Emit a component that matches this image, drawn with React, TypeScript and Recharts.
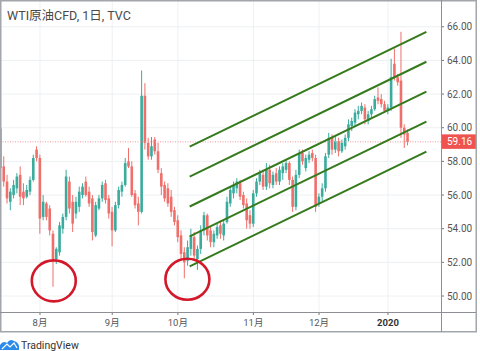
import React from 'react';
import { ComposedChart, Bar, XAxis, YAxis, CartesianGrid, ReferenceLine, ReferenceDot } from 'recharts';

// Daily candles, 16 Jul 2019 .. 10 Jan 2020 (index = trading day)
const OPEN = [
  59.95, 57.7, 56.8, 55.6, 56.0, 56.4, 57.2, 56.2, 55.9, 56.2, 56.9, 58.7, 58.2, 54.7, 55.5, 55.2, 53.7, 52.2, 52.6, 54.0,
  54.7, 56.8, 55.6, 54.9, 55.3, 56.0, 56.8, 56.2, 55.8, 53.6, 55.2, 55.8, 56.7, 55.8, 55.0, 53.9, 55.4, 56.2, 56.6, 58.0,
  57.7, 56.1, 55.5, 55.0, 61.9, 59.1, 58.3, 59.3, 58.6, 57.3, 56.6, 56.4, 55.9, 55.1, 54.5, 53.6, 52.6, 52.1, 52.8, 53.5,
  52.2, 52.8, 53.9, 54.8, 53.9, 53.2, 53.6, 54.2, 53.6, 54.4, 55.5, 56.1, 56.4, 56.7, 56.0, 55.5, 54.8, 54.3, 56.1, 56.8,
  57.2, 56.5, 57.5, 56.6, 57.3, 56.8, 57.3, 57.5, 57.9, 56.9, 55.3, 57.2, 58.5, 57.6, 58.1, 58.5, 58.2, 55.5, 55.9, 56.4,
  58.4, 59.4, 58.7, 59.2, 58.6, 58.9, 59.4, 60.1, 60.3, 60.8, 61.0, 61.2, 60.4, 60.8, 61.1, 61.8, 61.7, 61.4, 61.0, 61.2,
  63.8, 63.0, 62.8, 60.0, 59.7,
];
const HIGH = [
  60.1, 58.3, 57.2, 56.4, 56.9, 57.3, 57.7, 56.7, 56.6, 57.1, 58.4, 58.9, 58.4, 56.0, 55.6, 55.4, 53.9, 52.9, 54.4, 54.9,
  57.5, 57.1, 56.0, 55.9, 56.5, 56.7, 57.1, 56.5, 56.0, 55.6, 56.0, 56.8, 56.9, 56.0, 55.3, 55.6, 56.5, 56.8, 58.2, 58.8,
  58.0, 56.3, 55.9, 63.4, 62.65, 59.4, 59.45, 59.45, 59.1, 57.6, 56.8, 56.7, 56.3, 55.3, 54.8, 53.9, 52.9, 53.3, 54.0, 53.8,
  53.0, 54.2, 55.0, 54.9, 54.1, 53.9, 54.3, 54.5, 54.5, 55.9, 56.5, 56.8, 57.0, 56.9, 56.2, 55.8, 55.1, 56.3, 57.0, 57.5,
  57.5, 57.9, 57.8, 57.4, 57.6, 57.7, 57.9, 58.1, 58.0, 57.1, 57.5, 58.7, 58.7, 58.4, 58.6, 58.7, 58.4, 56.1, 56.7, 58.5,
  59.7, 59.6, 59.5, 59.4, 59.3, 59.6, 60.5, 60.6, 61.1, 61.3, 61.5, 61.4, 61.0, 61.3, 61.9, 62.4, 62.0, 61.6, 61.4, 64.1,
  64.7, 63.2, 65.7, 60.2, 59.9,
];
const LOW = [
  57.3, 56.5, 55.5, 55.1, 55.8, 56.1, 55.4, 55.4, 55.8, 56.0, 56.8, 58.0, 53.7, 54.5, 54.5, 53.6, 50.55, 51.9, 52.4, 53.7,
  54.5, 54.9, 53.8, 54.6, 55.0, 55.8, 55.9, 55.3, 53.3, 53.5, 55.1, 55.6, 55.5, 54.6, 52.95, 53.8, 55.2, 55.9, 56.5, 57.6,
  55.9, 55.2, 54.2, 54.9, 58.7, 58.1, 58.1, 58.4, 57.3, 56.0, 55.6, 55.3, 54.7, 54.2, 53.2, 52.2, 51.05, 51.8, 52.4, 52.2,
  51.55, 52.5, 53.6, 53.3, 52.9, 52.9, 53.4, 53.4, 53.3, 54.3, 55.3, 55.8, 56.1, 55.7, 55.2, 54.0, 54.0, 54.1, 55.9, 56.6,
  56.3, 56.3, 56.4, 56.4, 56.6, 56.6, 56.9, 57.3, 56.6, 55.0, 55.1, 57.0, 57.8, 57.4, 57.9, 58.0, 55.0, 55.3, 55.6, 56.2,
  58.2, 58.4, 58.5, 58.3, 58.5, 58.7, 59.2, 59.8, 60.1, 60.5, 60.8, 60.2, 60.2, 60.6, 61.0, 61.4, 61.2, 60.9, 60.8, 61.0,
  62.8, 62.5, 59.4, 58.8, 58.95,
];
const CLOSE = [
  57.6, 56.8, 55.8, 56.2, 56.6, 57.1, 55.9, 55.8, 56.3, 56.9, 58.2, 58.2, 54.6, 55.6, 54.7, 53.9, 52.2, 52.8, 54.2, 54.7,
  57.1, 55.2, 54.3, 55.6, 56.2, 56.5, 56.0, 55.5, 53.8, 55.4, 55.8, 56.6, 55.7, 54.9, 53.9, 55.4, 56.3, 56.6, 57.9, 57.7,
  56.0, 55.4, 55.0, 61.9, 59.1, 58.3, 58.9, 58.6, 57.5, 56.5, 55.8, 55.5, 55.0, 54.4, 53.5, 52.5, 52.0, 52.9, 53.6, 52.4,
  52.8, 53.9, 54.8, 53.6, 53.2, 53.7, 54.1, 53.7, 54.3, 55.6, 56.3, 56.6, 56.8, 55.9, 55.4, 54.5, 54.3, 56.1, 56.8, 57.3,
  56.5, 57.5, 56.7, 57.2, 56.8, 57.5, 57.7, 57.9, 56.9, 55.3, 57.2, 58.5, 58.0, 58.2, 58.4, 58.2, 55.3, 55.9, 56.4, 58.3,
  59.4, 58.7, 59.2, 58.6, 59.1, 59.4, 60.2, 60.4, 60.9, 61.0, 61.3, 60.5, 60.8, 61.1, 61.7, 61.6, 61.4, 61.0, 61.2, 63.0,
  63.0, 62.7, 60.0, 59.6, 59.16,
];

const MONTH_TICKS = [12, 34, 54, 77, 97, 118];
const MONTH_LABELS = ['8月', '9月', '10月', '11月', '12月', '2020'];
const PRICE_TICKS = [50, 52, 54, 56, 58, 60, 62, 64, 66];
const LAST_PRICE = 59.16;

const CHANNEL_X = [57.6, 129.7];
const CHANNEL_START = [58.88, 57.1, 55.32, 53.54, 51.76];
const CHANNEL_END = [65.7, 63.92, 62.14, 60.36, 58.58];

const CIRCLES = [
  { i: 16.2, p: 50.9 },
  { i: 56.9, p: 51.0 },
];

const X_DOMAIN = [-0.183, 134.15];
const Y_DOMAIN = [49.05, 67.59];

const UP = '#3aab9d';
const DOWN = '#ef6f6b';
const FONT = 'Roboto, "Noto Sans CJK JP", sans-serif';

const data = OPEN.map((o, i) => ({ i, o, h: HIGH[i], l: LOW[i], c: CLOSE[i], range: [LOW[i], HIGH[i]] }));

const Candle = (props: any) => {
  const { x, y, width, height } = props;
  const d = props.payload ?? props;
  if (x == null || y == null) return null;
  const top = Math.min(y, y + height);
  const bot = Math.max(y, y + height);
  const span = d.h - d.l;
  const toPx = (v: number) => (span > 0 ? top + ((d.h - v) / span) * (bot - top) : top);
  const cx = x + width / 2;
  const color = d.c >= d.o ? UP : DOWN;
  const bTop = toPx(Math.max(d.o, d.c));
  const bBot = toPx(Math.min(d.o, d.c));
  return (
    <g>
      <line x1={cx} x2={cx} y1={top} y2={bot} stroke={color} strokeWidth={1} />
      <rect x={cx - 1.3} y={bTop} width={2.6} height={Math.max(1, bBot - bTop)} fill={color} />
    </g>
  );
};

const MonthTick = (props: any) => {
  const { x, y, payload } = props;
  const idx = MONTH_TICKS.indexOf(payload.value);
  const label = MONTH_LABELS[idx] ?? '';
  const bold = label === '2020';
  return (
    <text x={x} y={y} dy="0.71em" textAnchor="middle" fontSize={9.5} fontFamily={FONT} fill={bold ? '#333' : '#555'} fontWeight={bold ? 700 : 400}>
      {label}
    </text>
  );
};

const PriceTag = (props: any) => {
  const vb = props.viewBox || {};
  const xr = (vb.x ?? 0) + (vb.width ?? 0);
  const yc = vb.y ?? 0;
  return (
    <g>
      <rect x={xr} y={yc - 7.5} width={36} height={14.5} fill="#ef5350" />
      <text x={xr + 6} y={yc + 3.5} fontSize={10} fontFamily={FONT} fill="#fff">
        {LAST_PRICE.toFixed(2)}
      </text>
    </g>
  );
};

const ellipseShape = (p: any) => (
  <ellipse cx={p.cx} cy={p.cy} rx={22} ry={20.5} fill="none" stroke="#d3182a" strokeWidth={2.6} />
);

export default function App() {
  return (
    <div style={{ position: 'absolute', left: 0, top: 0, width: 480, height: 351, background: '#fff', overflow: 'hidden' }}>
      <ComposedChart width={477} height={332} data={data} margin={{ top: 0, right: 0, bottom: 0, left: 0 }}>
        <CartesianGrid stroke="#edf0f3" horizontalValues={PRICE_TICKS} verticalValues={MONTH_TICKS} />
        <XAxis
          dataKey="i"
          type="number"
          scale="linear"
          domain={X_DOMAIN}
          allowDataOverflow
          ticks={MONTH_TICKS}
          interval={0}
          height={20}
          axisLine={false}
          tickLine={{ stroke: '#777' }}
          tickSize={3}
          tickMargin={4}
          tick={<MonthTick />}
        />
        <YAxis
          orientation="right"
          type="number"
          domain={Y_DOMAIN}
          allowDataOverflow
          ticks={PRICE_TICKS}
          interval={0}
          width={36}
          axisLine={false}
          tickLine={{ stroke: '#777' }}
          tickSize={3}
          tickMargin={3}
          tickFormatter={(v: number) => v.toFixed(2)}
          tick={{ fontSize: 10, fill: '#555', fontFamily: FONT }}
        />
        <ReferenceLine y={LAST_PRICE} stroke="#f19a98" strokeDasharray="1 1.5" strokeWidth={1} label={<PriceTag />} />
        <Bar dataKey="range" barSize={3} shape={<Candle />} isAnimationActive={false} />
        {CHANNEL_START.map((s, k) => (
          <ReferenceLine
            key={k}
            segment={[
              { x: CHANNEL_X[0], y: s },
              { x: CHANNEL_X[1], y: CHANNEL_END[k] },
            ]}
            stroke="#357a1c"
            strokeWidth={2}
            ifOverflow="visible"
          />
        ))}
        {CIRCLES.map((c, k) => (
          <ReferenceDot key={k} x={c.i} y={c.p} r={21} ifOverflow="visible" shape={ellipseShape} />
        ))}
      </ComposedChart>
      <svg width={480} height={351} style={{ position: 'absolute', left: 0, top: 0, pointerEvents: 'none' }}>
        <rect x={0.75} y={0.75} width={475.5} height={331} fill="none" stroke="#a2a5aa" strokeWidth={1.5} />
        <line x1={0} x2={476} y1={312.5} y2={312.5} stroke="#8d8f94" strokeWidth={1} />
        <line x1={441.5} x2={441.5} y1={0} y2={332} stroke="#8d8f94" strokeWidth={1} />
        <text x={7} y={19.5} fontSize={12.5} fontFamily={FONT} fill="#4a4a4a">
          WTI原油CFD, 1日, TVC
        </text>
        <g>
          <path d="M0 350 L0 345 Q3 340 7 343 Q10 338 14 341 Q18 342 19 346 L19 350 Z" fill="#2a8be8" />
          <path d="M2 349 L7 344 L10 347 L14 343 L17 348" fill="none" stroke="#fff" strokeWidth={1.2} />
        </g>
        <text x={21} y={348.5} fontSize={10.5} fontFamily={FONT} fill="#333">
          TradingView
        </text>
      </svg>
    </div>
  );
}
